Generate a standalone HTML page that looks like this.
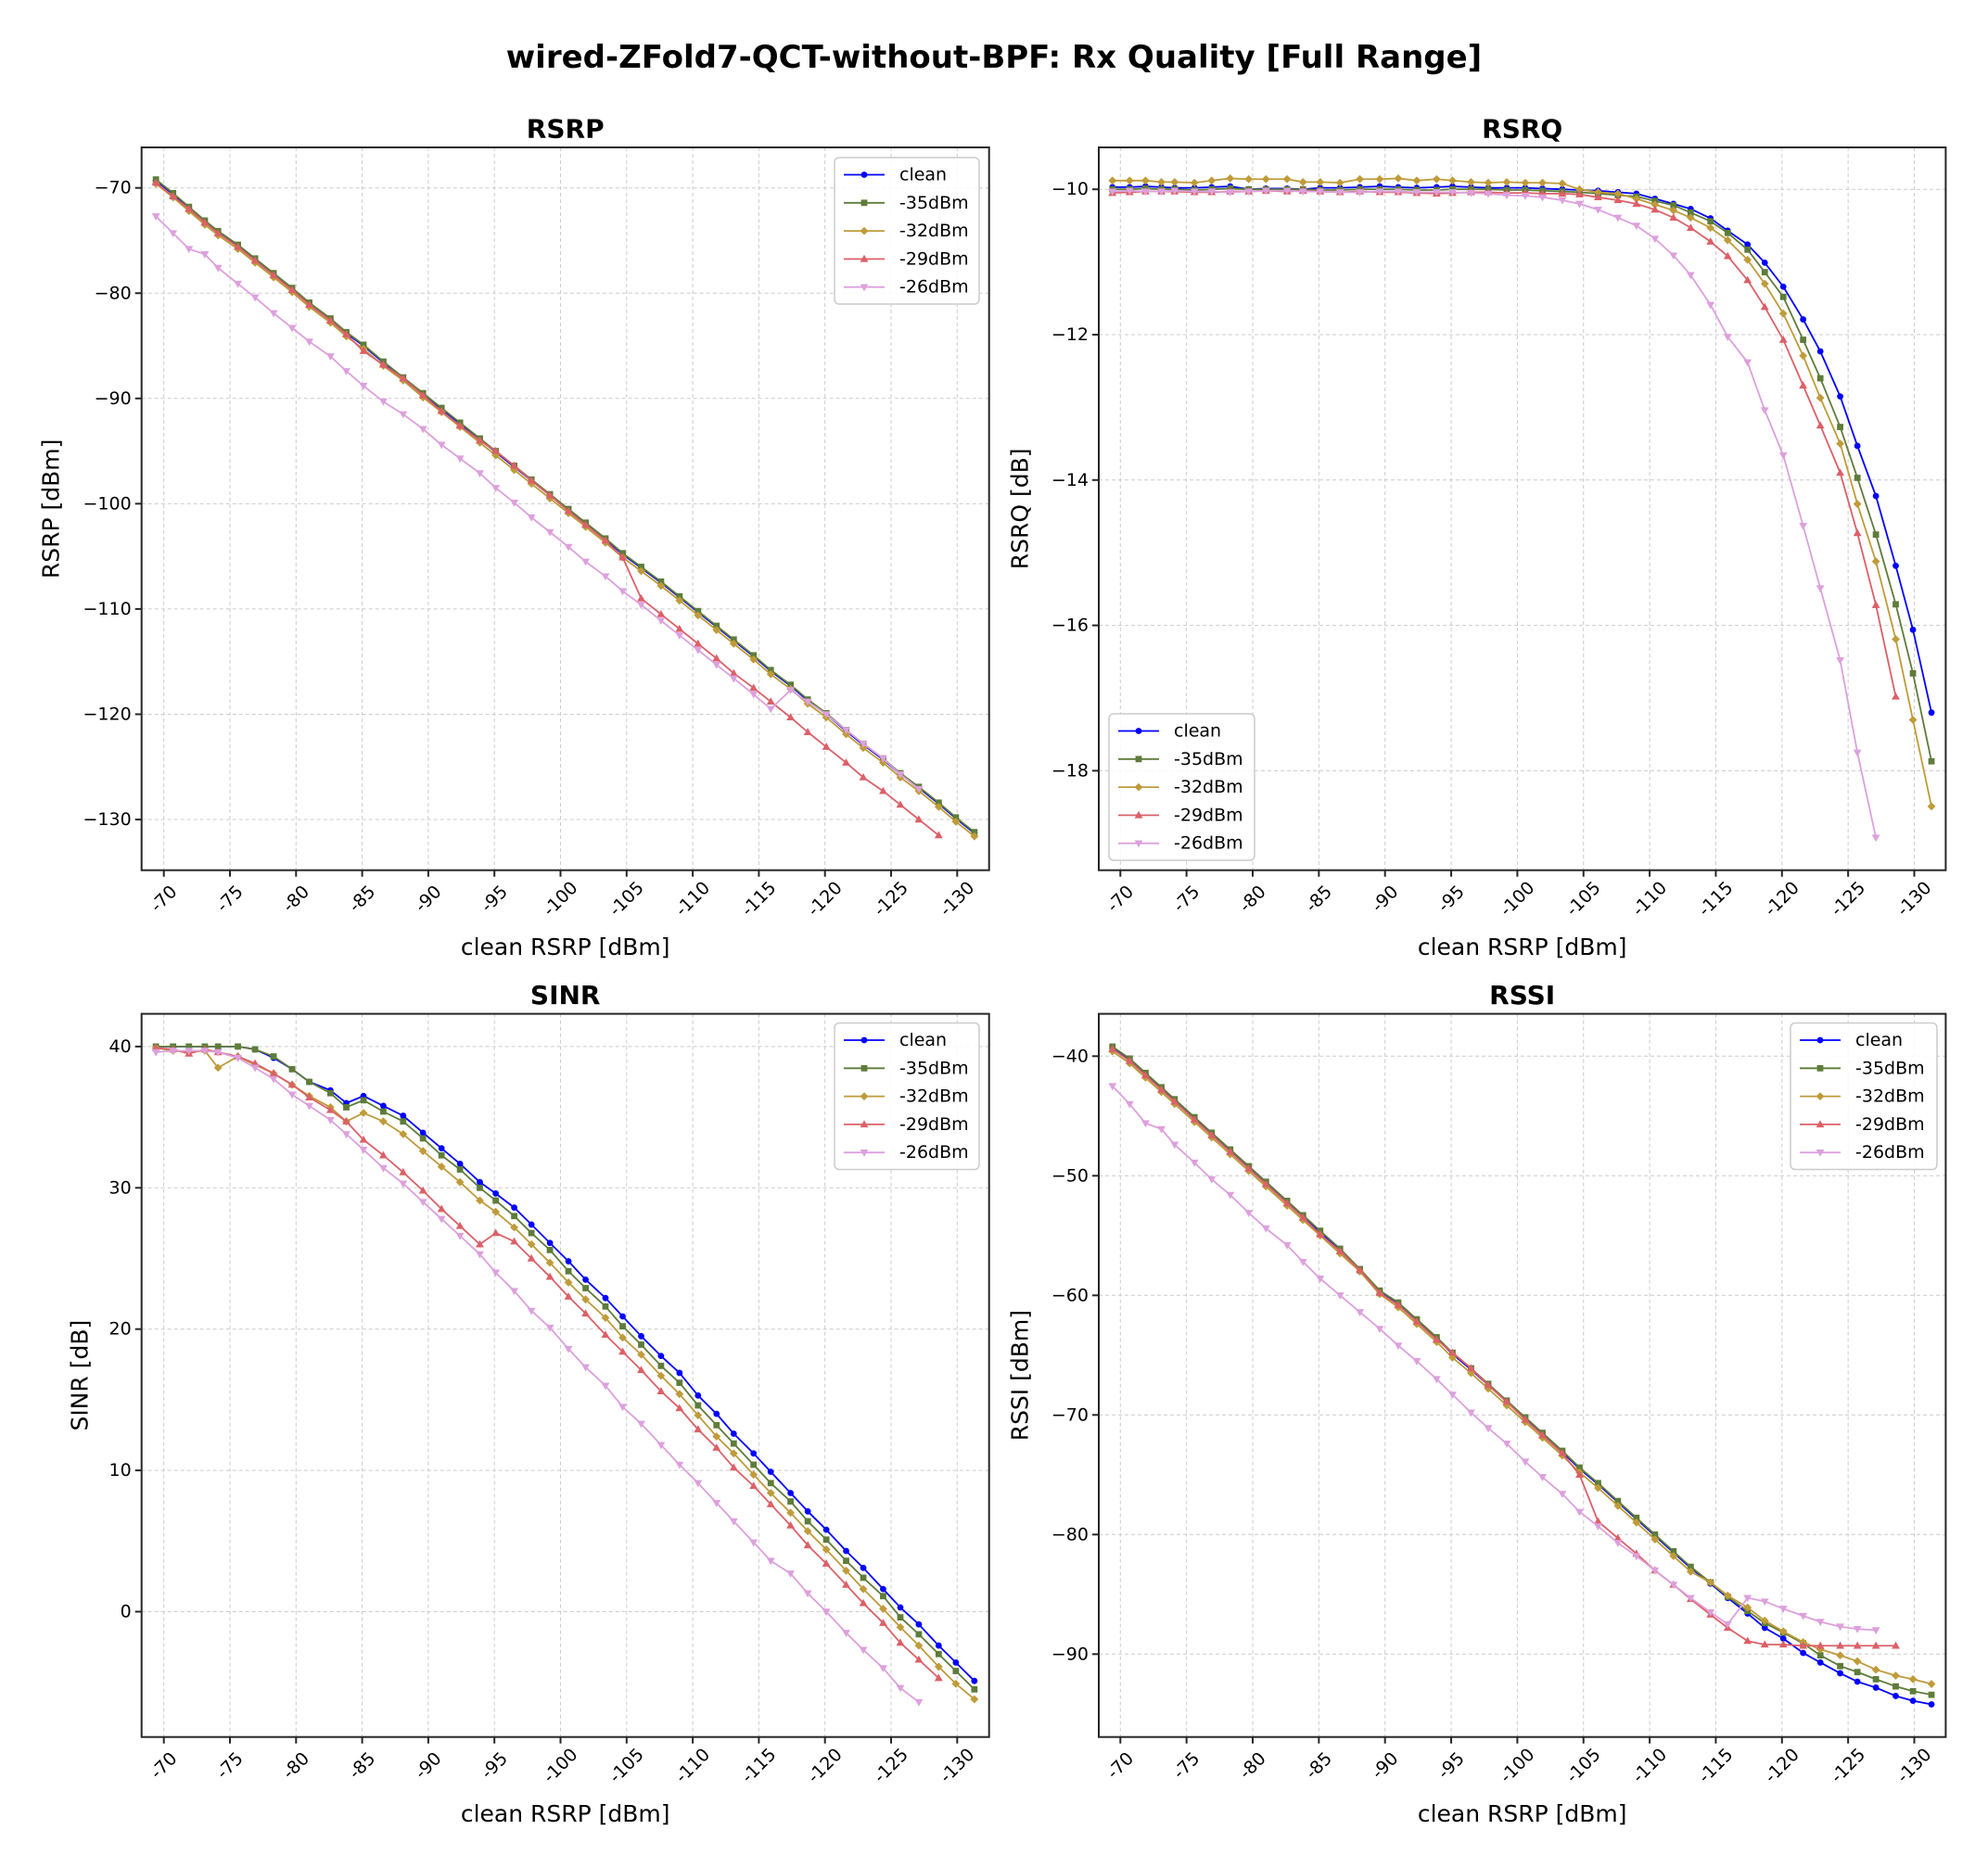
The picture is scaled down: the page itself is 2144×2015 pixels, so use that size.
<!DOCTYPE html>
<html><head><meta charset="utf-8"><style>
html,body{margin:0;padding:0;background:#fff;}
svg{display:block;font-family:"DejaVu Sans","Liberation Sans",sans-serif;}
</style></head><body>
<svg id="fig" width="2144" height="2015" viewBox="0 0 2144 2015" xmlns="http://www.w3.org/2000/svg">
<rect width="2144" height="2015" fill="#fff"/>
<text x="1072" y="62" text-anchor="middle" dominant-baseline="central" font-size="34" font-weight="bold">wired-ZFold7-QCT-without-BPF: Rx Quality [Full Range]</text>
</svg>
<script>
const X = [-69.4,-70.7,-71.9,-73.1,-74.1,-75.6,-76.9,-78.3,-79.7,-81.0,-82.6,-83.8,-85.1,-86.6,-88.1,-89.6,-91.0,-92.4,-93.9,-95.1,-96.5,-97.8,-99.2,-100.6,-101.9,-103.4,-104.7,-106.1,-107.6,-109.0,-110.4,-111.8,-113.1,-114.6,-115.9,-117.4,-118.7,-120.1,-121.6,-122.9,-124.4,-125.7,-127.1,-128.6,-129.9,-131.3];
const seriesNames = ["clean","-35dBm","-32dBm","-29dBm","-26dBm"];
const xTicks = [-70,-75,-80,-85,-90,-95,-100,-105,-110,-115,-120,-125,-130];

const rsrpClean = [-69.3,-70.6,-71.9,-73.2,-74.2,-75.5,-76.8,-78.2,-79.6,-81.0,-82.5,-83.8,-85.0,-86.6,-88.2,-89.6,-91.0,-92.4,-93.9,-95.1,-96.5,-97.8,-99.2,-100.6,-101.9,-103.4,-104.8,-106.1,-107.5,-108.9,-110.3,-111.7,-113.0,-114.5,-115.9,-117.3,-118.7,-120.0,-121.6,-122.9,-124.3,-125.7,-127.0,-128.5,-129.9,-131.3];
const rsrp35 = [-69.2,-70.5,-71.8,-73.1,-74.1,-75.4,-76.7,-78.1,-79.5,-80.9,-82.4,-83.7,-84.9,-86.5,-88.0,-89.5,-90.9,-92.3,-93.8,-95.0,-96.4,-97.7,-99.1,-100.5,-101.8,-103.3,-104.7,-106.0,-107.4,-108.8,-110.2,-111.6,-112.9,-114.4,-115.8,-117.2,-118.6,-119.9,-121.5,-122.8,-124.2,-125.6,-126.9,-128.4,-129.8,-131.2];
const rsrp32 = [-69.6,-70.9,-72.2,-73.5,-74.5,-75.8,-77.1,-78.5,-79.9,-81.3,-82.8,-84.1,-85.3,-86.9,-88.3,-89.9,-91.3,-92.7,-94.2,-95.4,-96.8,-98.1,-99.5,-100.9,-102.2,-103.7,-105.1,-106.4,-107.8,-109.2,-110.6,-112.0,-113.3,-114.8,-116.2,-117.6,-119.0,-120.3,-121.9,-123.2,-124.6,-126.0,-127.3,-128.8,-130.2,-131.6];
const rsrp29 = [-69.5,-70.8,-72.0,-73.3,-74.3,-75.6,-76.9,-78.3,-79.7,-81.1,-82.6,-83.9,-85.5,-86.8,-88.1,-89.7,-91.2,-92.6,-94.0,-95.0,-96.4,-97.8,-99.2,-100.7,-102.0,-103.5,-105.1,-109.0,-110.5,-111.9,-113.3,-114.7,-116.1,-117.5,-118.8,-120.3,-121.7,-123.1,-124.6,-126.0,-127.3,-128.6,-130.0,-131.5];
const rsrp26 = [-72.7,-74.3,-75.8,-76.3,-77.6,-79.1,-80.4,-81.9,-83.3,-84.6,-86.0,-87.4,-88.8,-90.3,-91.5,-92.9,-94.4,-95.7,-97.1,-98.5,-99.9,-101.3,-102.7,-104.1,-105.5,-106.9,-108.3,-109.6,-111.1,-112.5,-113.9,-115.3,-116.6,-118.1,-119.5,-117.7,-118.8,-120.0,-121.5,-122.8,-124.2,-125.7,-127.1];
const rsrpTicks = [-70,-80,-90,-100,-110,-120,-130];

const rsrqClean = [-9.97,-9.97,-9.96,-9.97,-9.98,-9.98,-9.97,-9.96,-10.0,-9.99,-9.99,-10.0,-9.98,-9.98,-9.97,-9.96,-9.97,-9.98,-9.97,-9.96,-9.97,-9.98,-9.98,-9.98,-9.99,-10.0,-10.01,-10.02,-10.04,-10.06,-10.13,-10.2,-10.27,-10.4,-10.57,-10.76,-11.01,-11.34,-11.79,-12.23,-12.85,-13.53,-14.22,-15.18,-16.06,-17.2];
const rsrq35 = [-10.0,-10.0,-9.99,-10.0,-10.0,-10.01,-10.0,-9.99,-10.0,-10.0,-10.0,-10.0,-10.01,-10.01,-10.0,-10.0,-10.0,-10.01,-10.01,-10.0,-10.0,-10.0,-10.01,-10.01,-10.02,-10.03,-10.04,-10.06,-10.08,-10.1,-10.16,-10.22,-10.32,-10.44,-10.6,-10.83,-11.14,-11.48,-12.07,-12.6,-13.27,-13.97,-14.75,-15.71,-16.66,-17.87];
const rsrq32 = [-9.88,-9.88,-9.88,-9.9,-9.9,-9.91,-9.88,-9.85,-9.86,-9.86,-9.86,-9.9,-9.9,-9.91,-9.86,-9.86,-9.85,-9.88,-9.86,-9.88,-9.9,-9.91,-9.9,-9.91,-9.91,-9.92,-10.0,-10.04,-10.06,-10.13,-10.21,-10.29,-10.39,-10.53,-10.7,-10.97,-11.3,-11.71,-12.29,-12.87,-13.5,-14.33,-15.12,-16.19,-17.3,-18.49];
const rsrq29 = [-10.05,-10.04,-10.03,-10.03,-10.03,-10.04,-10.04,-10.03,-10.03,-10.02,-10.03,-10.02,-10.03,-10.04,-10.03,-10.04,-10.04,-10.05,-10.06,-10.05,-10.04,-10.04,-10.05,-10.05,-10.06,-10.06,-10.07,-10.11,-10.15,-10.2,-10.28,-10.39,-10.53,-10.72,-10.92,-11.25,-11.62,-12.07,-12.7,-13.25,-13.9,-14.73,-15.72,-16.98];
const rsrq26 = [-10.03,-10.02,-10.03,-10.03,-10.02,-10.03,-10.03,-10.04,-10.03,-10.02,-10.02,-10.03,-10.03,-10.04,-10.04,-10.03,-10.03,-10.04,-10.04,-10.04,-10.05,-10.06,-10.08,-10.09,-10.11,-10.15,-10.2,-10.28,-10.39,-10.5,-10.68,-10.91,-11.18,-11.59,-12.03,-12.38,-13.04,-13.66,-14.63,-15.49,-16.48,-17.75,-18.92];
const rsrqTicks = [-10,-12,-14,-16,-18];

const sinrClean = [40,40,40,40,40,40,39.8,39.2,38.4,37.5,36.9,36.0,36.5,35.8,35.1,33.9,32.8,31.7,30.4,29.6,28.6,27.4,26.1,24.8,23.5,22.2,20.9,19.5,18.1,16.9,15.3,14.0,12.6,11.2,9.9,8.4,7.1,5.8,4.3,3.1,1.6,0.3,-0.9,-2.4,-3.6,-4.9];
const sinr35 = [40,40,40,40,40,40,39.8,39.3,38.4,37.5,36.7,35.7,36.2,35.4,34.7,33.5,32.3,31.3,30.0,29.1,28.0,26.8,25.6,24.1,22.9,21.6,20.2,18.9,17.4,16.2,14.6,13.2,11.9,10.4,9.1,7.8,6.4,5.1,3.6,2.4,1.1,-0.4,-1.6,-3.0,-4.2,-5.5];
const sinr32 = [39.9,39.7,39.6,39.7,38.5,39.3,38.7,38.1,37.3,36.5,35.7,34.7,35.3,34.7,33.8,32.6,31.5,30.4,29.1,28.3,27.2,26.0,24.7,23.3,22.1,20.8,19.4,18.2,16.7,15.4,13.9,12.4,11.2,9.7,8.4,7.0,5.7,4.4,2.9,1.6,0.2,-1.1,-2.4,-3.9,-5.1,-6.2];
const sinr29 = [39.9,39.8,39.5,39.8,39.6,39.3,38.8,38.1,37.3,36.4,35.5,34.7,33.4,32.3,31.1,29.8,28.5,27.3,26.0,26.8,26.2,25.0,23.7,22.3,21.1,19.6,18.4,17.1,15.6,14.4,12.9,11.6,10.2,8.9,7.6,6.1,4.7,3.4,1.9,0.6,-0.8,-2.2,-3.4,-4.7];
const sinr26 = [39.6,39.7,39.7,39.7,39.6,39.2,38.5,37.7,36.6,35.8,34.8,33.8,32.7,31.4,30.3,29.0,27.8,26.6,25.3,24.0,22.7,21.3,20.1,18.6,17.3,16.0,14.5,13.3,11.8,10.4,9.1,7.7,6.4,4.9,3.6,2.7,1.3,0.0,-1.5,-2.7,-4.0,-5.4,-6.4];
const sinrTicks = [0,10,20,30,40];

const rssiClean = [-39.3,-40.3,-41.5,-42.7,-43.7,-45.2,-46.5,-47.9,-49.3,-50.6,-52.2,-53.4,-54.7,-56.2,-58.0,-59.7,-60.7,-62.1,-63.6,-64.9,-66.2,-67.5,-68.9,-70.3,-71.6,-73.1,-74.5,-75.8,-77.3,-78.7,-80.1,-81.5,-82.8,-84.1,-85.3,-86.6,-87.8,-88.7,-89.9,-90.7,-91.6,-92.3,-92.8,-93.5,-93.9,-94.2];
const rssi35 = [-39.2,-40.2,-41.4,-42.6,-43.6,-45.1,-46.4,-47.8,-49.2,-50.5,-52.1,-53.3,-54.6,-56.1,-57.8,-59.6,-60.6,-62.0,-63.5,-64.8,-66.1,-67.4,-68.8,-70.2,-71.5,-73.0,-74.4,-75.7,-77.2,-78.6,-80.0,-81.4,-82.7,-84.0,-85.2,-86.4,-87.4,-88.2,-89.1,-90.1,-91.0,-91.5,-92.1,-92.7,-93.1,-93.4];
const rssi32 = [-39.6,-40.6,-41.8,-43.0,-44.0,-45.5,-46.8,-48.2,-49.6,-50.9,-52.5,-53.7,-55.0,-56.5,-58.0,-59.9,-61.0,-62.4,-63.9,-65.2,-66.5,-67.8,-69.2,-70.6,-71.9,-73.4,-74.8,-76.1,-77.6,-79.0,-80.4,-81.8,-83.1,-84.0,-85.1,-86.1,-87.2,-88.1,-89.0,-89.6,-90.1,-90.6,-91.3,-91.8,-92.1,-92.5];
const rssi29 = [-39.4,-40.4,-41.6,-42.8,-43.8,-45.3,-46.6,-48.0,-49.4,-50.7,-52.3,-53.5,-54.9,-56.3,-57.9,-59.8,-60.8,-62.2,-63.7,-64.8,-66.1,-67.5,-68.9,-70.4,-71.7,-73.2,-75.0,-78.9,-80.3,-81.6,-83.0,-84.2,-85.4,-86.7,-87.8,-88.9,-89.2,-89.2,-89.3,-89.3,-89.3,-89.3,-89.3,-89.3];
const rssi26 = [-42.5,-44.0,-45.6,-46.1,-47.4,-48.9,-50.3,-51.6,-53.1,-54.4,-55.8,-57.2,-58.6,-60.0,-61.4,-62.8,-64.2,-65.5,-67.0,-68.3,-69.8,-71.1,-72.4,-73.9,-75.2,-76.6,-78.1,-79.3,-80.7,-81.8,-83.0,-84.2,-85.3,-86.5,-87.5,-85.3,-85.6,-86.2,-86.8,-87.3,-87.7,-87.9,-88.0];
const rssiTicks = [-40,-50,-60,-70,-80,-90];

const NS = "http://www.w3.org/2000/svg";
const svg = document.getElementById('fig');
const COLORS = ["#0000ff","#5e7c3a","#bf9b3a","#dc6068","#dda0dd"];
const MARKERS = ["circle","square","diamond","tri-up","tri-down"];

function mk(tag, attrs, parent){
  const e = document.createElementNS(NS, tag);
  for (const k in attrs) e.setAttribute(k, attrs[k]);
  (parent||svg).appendChild(e);
  return e;
}
function marker(g, type, x, y, c){
  let e;
  if (type==="circle") e = mk('circle',{cx:x,cy:y,r:3.4,fill:c},g);
  else if (type==="square") e = mk('rect',{x:x-3.4,y:y-3.4,width:6.8,height:6.8,fill:c},g);
  else if (type==="diamond") e = mk('polygon',{points:`${x},${y-4.4} ${x+4.4},${y} ${x},${y+4.4} ${x-4.4},${y}`,fill:c},g);
  else if (type==="tri-up") e = mk('polygon',{points:`${x},${y-4.6} ${x+4.4},${y+3.2} ${x-4.4},${y+3.2}`,fill:c},g);
  else e = mk('polygon',{points:`${x},${y+4.6} ${x+4.4},${y-3.2} ${x-4.4},${y-3.2}`,fill:c},g);
  return e;
}

function panel(cfg){
  const {key,title,ylabel,L,R,T,B,x70,xPer,y0v,y0px,yPer,yTicks,series,legend,ylabX} = cfg;
  const sx = v => x70 + (-70 - v) * xPer;
  const sy = v => y0px - (v - y0v) * yPer;
  const g = mk('g',{});
  
  
  const grid = mk('g',{},g);
  
  
  xTicks.forEach(t => { mk('line',{x1:sx(t),x2:sx(t),y1:T,y2:B,stroke:"#cccccc","stroke-width":1,"stroke-dasharray":"4,3"},grid); });
  yTicks.forEach(t => { mk('line',{x1:L,x2:R,y1:sy(t),y2:sy(t),stroke:"#cccccc","stroke-width":1,"stroke-dasharray":"4,3"},grid); });
  const clip = mk('clipPath',{id:'clip-'+key},g);
  mk('rect',{x:L,y:T,width:R-L,height:B-T},clip);
  const plot = mk('g',{'clip-path':`url(#clip-${key})`},g);
  series.forEach((ys,si) => {
    const sg = mk('g',{},plot);
    
    
    const pts = ys.map((v,i) => sx(X[i]).toFixed(2) + ',' + sy(v).toFixed(2)).join(' ');
    const pl = mk('polyline',{points:pts,fill:"none",stroke:COLORS[si],"stroke-width":1.8,"stroke-linejoin":"round"},sg);
    
    
    ys.forEach((v,i) => {
      const m = marker(sg, MARKERS[si], sx(X[i]), sy(v), COLORS[si]);
      
      
    });
  });
  const fr = mk('rect',{x:L,y:T,width:R-L,height:B-T,fill:"none",stroke:"#262626","stroke-width":2},g);
  
  
  xTicks.forEach(t => {
    const x = sx(t);
    mk('line',{x1:x,x2:x,y1:B,y2:B+7,stroke:"#262626","stroke-width":2},g);
    const tx = mk('text',{x:x,y:B+31,"text-anchor":"middle","dominant-baseline":"central","font-size":19,transform:`rotate(-45 ${x} ${B+31})`},g);
    tx.textContent = String(t);
    
    
  });
  yTicks.forEach(t => {
    const y = sy(t);
    mk('line',{x1:L-7,x2:L,y1:y,y2:y,stroke:"#262626","stroke-width":2},g);
    const tx = mk('text',{x:L-11,y:y,"text-anchor":"end","dominant-baseline":"central","font-size":19},g);
    tx.textContent = t < 0 ? '\u2212' + Math.abs(t) : String(t);
    
    
  });
  const tt = mk('text',{x:(L+R)/2,y:T-20,"text-anchor":"middle","dominant-baseline":"central","font-size":28,"font-weight":"bold"},g);
  tt.textContent = title;
  
  
  const xl = mk('text',{x:(L+R)/2,y:B+83,"text-anchor":"middle","dominant-baseline":"central","font-size":25},g);
  xl.textContent = "clean RSRP [dBm]";
  
  
  const yc = (T+B)/2;
  const yl = mk('text',{x:ylabX,y:yc,"text-anchor":"middle","dominant-baseline":"central","font-size":25,transform:`rotate(-90 ${ylabX} ${yc})`},g);
  yl.textContent = ylabel;
  
  
  const lg = mk('g',{},g);
  
  
  mk('rect',{x:legend.x,y:legend.y,width:legend.w,height:158,rx:5,fill:"#ffffff","fill-opacity":0.85,stroke:"#cccccc","stroke-width":1.5},lg);
  seriesNames.forEach((n,si) => {
    const ey = legend.y + 18.5 + si*30.3;
    const ent = mk('g',{},lg);
    
    
    mk('line',{x1:legend.x+10,x2:legend.x+54,y1:ey,y2:ey,stroke:COLORS[si],"stroke-width":1.8},ent);
    marker(ent, MARKERS[si], legend.x+32, ey, COLORS[si]);
    const t = mk('text',{x:legend.x+70,y:ey,"dominant-baseline":"central","font-size":19},ent);
    t.textContent = n;
  });
}

panel({key:"rsrp",title:"RSRP",ylabel:"RSRP [dBm]",L:152.7,R:1066.7,T:159,B:938.7,x70:176.7,xPer:14.26,
  y0v:-70,y0px:202.7,yPer:11.355,yTicks:rsrpTicks,series:[rsrpClean,rsrp35,rsrp32,rsrp29,rsrp26],
  legend:{x:900,y:170,w:156},ylabX:55});
panel({key:"rsrq",title:"RSRQ",ylabel:"RSRQ [dB]",L:1185,R:2098.4,T:159,B:938.7,x70:1208.3,xPer:14.27,
  y0v:-10,y0px:204.2,yPer:78.4,yTicks:rsrqTicks,series:[rsrqClean,rsrq35,rsrq32,rsrq29,rsrq26],
  legend:{x:1196,y:770,w:157},ylabX:1100});
panel({key:"sinr",title:"SINR",ylabel:"SINR [dB]",L:152.7,R:1066.7,T:1093.6,B:1873.7,x70:176.7,xPer:14.26,
  y0v:40,y0px:1128.9,yPer:15.24,yTicks:sinrTicks,series:[sinrClean,sinr35,sinr32,sinr29,sinr26],
  legend:{x:900,y:1103.5,w:156},ylabX:86});
panel({key:"rssi",title:"RSSI",ylabel:"RSSI [dBm]",L:1185,R:2098.4,T:1093.6,B:1873.7,x70:1208.3,xPer:14.27,
  y0v:-40,y0px:1139.3,yPer:12.9,yTicks:rssiTicks,series:[rssiClean,rssi35,rssi32,rssi29,rssi26],
  legend:{x:1931,y:1103.5,w:158},ylabX:1100});
</script>
</body></html>
